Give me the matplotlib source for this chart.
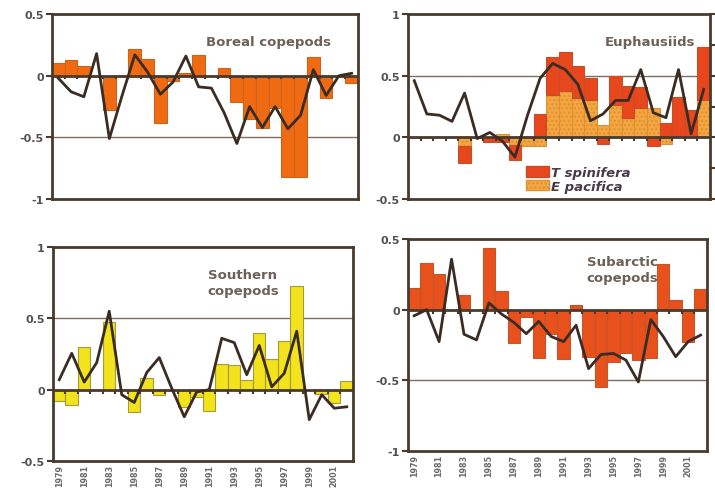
import matplotlib
matplotlib.use("Agg")
import matplotlib.pyplot as plt
from matplotlib.patches import Patch
import numpy as np

years = list(range(1979, 2003))
year_labels = [str(y) for y in years[::2]]

boreal_bars = [0.10, 0.13, 0.08, 0.0, -0.28, 0.0, 0.22, 0.14, -0.38, -0.04, 0.02, 0.17,
               0.0, 0.065, -0.21, -0.35, -0.42, -0.26, -0.82, -0.82, 0.155, -0.18, 0.0, -0.06]
boreal_line = [-0.02, -0.13, -0.17, 0.18, -0.51, -0.16, 0.17, 0.03, -0.15, -0.05, 0.16, -0.09,
               -0.10, -0.30, -0.55, -0.25, -0.42, -0.25, -0.43, -0.32, 0.05, -0.16, 0.0, 0.02]

tspin_bars = [0.0, 0.0, 0.0, 0.0, -0.14, 0.0, -0.04, -0.04, -0.12, 0.0, 0.19, 0.31,
              0.31, 0.26, 0.18, -0.05, 0.24, 0.26, 0.17, -0.07, 0.12, 0.33, 0.22, 0.43]
epac_bars = [0.0, 0.0, 0.0, 0.0, -0.07, 0.0, 0.0, 0.03, -0.06, -0.07, -0.07, 0.34,
             0.38, 0.32, 0.305, 0.10, 0.26, 0.16, 0.24, 0.235, -0.055, 0.0, 0.0, 0.30]
euph_line = [0.46, 0.19, 0.18, 0.13, 0.36, -0.01, 0.04, -0.03, -0.16, 0.18, 0.48, 0.60,
             0.55, 0.43, 0.135, 0.19, 0.30, 0.30, 0.55, 0.20, 0.16, 0.55, 0.03, 0.39]

southern_bars = [-0.077, -0.105, 0.30, 0.0, 0.477, 0.0, -0.155, 0.08, -0.035, 0.0, -0.12, -0.05,
                 -0.15, 0.18, 0.17, 0.07, 0.395, 0.215, 0.34, 0.725, 0.0, -0.03, -0.09, 0.06]
southern_line = [0.07, 0.255, 0.053, 0.19, 0.55, -0.035, -0.09, 0.12, 0.225, 0.01, -0.19, -0.016,
                 0.0, 0.36, 0.33, 0.105, 0.31, 0.02, 0.115, 0.41, -0.21, -0.035, -0.13, -0.12]

subarctic_bars = [0.155, 0.333, 0.25, 0.0, 0.107, 0.0, 0.433, 0.13, -0.233, -0.055, -0.345, -0.17,
                  -0.35, 0.03, -0.333, -0.548, -0.37, -0.31, -0.357, -0.345, 0.326, 0.07, -0.226, 0.143]
subarctic_line = [-0.043, 0.0, -0.226, 0.357, -0.174, -0.214, 0.048, -0.03, -0.09, -0.17, -0.083, -0.19,
                  -0.226, -0.11, -0.417, -0.317, -0.31, -0.357, -0.512, -0.07, -0.19, -0.333, -0.226, -0.18]

FRAME = "#4a3a2c"
GRID = "#7d6d5f"
LINE = "#3a2c22"
TXT = "#555050"
TITLE = "#6e6058"

fig = plt.figure(figsize=(7.15, 4.89), dpi=100)
fig.patch.set_facecolor("white")

x = np.arange(len(years))


def style(ax, ylim, yticks, show_x):
    ax.set_xlim(-0.5, len(years) - 0.5)
    ax.set_ylim(*ylim)
    ax.set_yticks(yticks)
    ax.set_yticklabels([("%g" % t) for t in yticks], fontsize=8, fontweight="bold", color=TXT)
    ax.tick_params(axis="y", length=4, width=1.5, color=FRAME, pad=2)
    for t in yticks:
        if t != 0 and ylim[0] < t < ylim[1]:
            ax.axhline(t, color=GRID, lw=1.0, zorder=0.5)
    ax.axhline(0, color=FRAME, lw=2.0, zorder=3)
    bounds = np.arange(0.5, len(years) - 0.5, 1.0)
    ax.vlines(bounds, 0, -0.03, color=FRAME, lw=1.5, zorder=3)
    for s in ax.spines.values():
        s.set_color(FRAME)
        s.set_linewidth(2.0)
    if show_x:
        ax.set_xticks(x[::2])
        ax.set_xticklabels(year_labels, rotation=90, fontsize=5.8, fontweight="bold", color="#6a6a6a")
        ax.tick_params(axis="x", length=0, pad=2)
    else:
        ax.set_xticks([])


# Boreal copepods
ax1 = fig.add_axes([0.0727, 0.591, 0.428, 0.378])
ax1.bar(x, boreal_bars, width=1.0, color="#f06a12", edgecolor="#c8641e", lw=0.8, zorder=2)
ax1.plot(x, boreal_line, color=LINE, lw=2.0, zorder=4)
style(ax1, (-1, 0.5), [-1, -0.5, 0, 0.5], False)
ax1.text(0.706, 0.854, "Boreal copepods", transform=ax1.transAxes, ha="center", va="center",
         fontsize=9.5, fontweight="bold", color=TITLE)

# Euphausiids
ax2 = fig.add_axes([0.5706, 0.591, 0.4224, 0.378])
tsp = np.array(tspin_bars)
epa = np.array(epac_bars)
base_t = np.where(np.sign(tsp) == np.sign(epa), epa, 0.0)
ax2.bar(x, epa, width=1.0, color="#f6a640", edgecolor="#dc9236", lw=0.8, hatch="....", zorder=2)
ax2.bar(x, tsp, bottom=base_t, width=1.0, color="#e8461c", edgecolor="#c4502a", lw=0.8, zorder=2)
ax2.plot(x, euph_line, color=LINE, lw=2.0, zorder=4)
style(ax2, (-0.5, 1), [-0.5, 0, 0.5, 1], False)
ax2.yaxis.set_ticks_position("both")
ax2.tick_params(axis="y", which="both", right=True, direction="out")
ax2.set_yticks([-0.25, 0.25, 0.75], minor=True)
ax2.tick_params(axis="y", which="minor", left=False, right=True, length=4, width=1.5, color=FRAME)
ax2.text(0.80, 0.854, "Euphausiids", transform=ax2.transAxes, ha="center", va="center",
         fontsize=9.5, fontweight="bold", color=TITLE)
handles = [Patch(facecolor="#e8461c", edgecolor="#c4502a", label="T spinifera"),
           Patch(facecolor="#f6a640", edgecolor="#dc9236", hatch="....", label="E pacifica")]
leg = ax2.legend(handles=handles, loc="upper left", bbox_to_anchor=(0.37, 0.215), frameon=False,
                 handlelength=1.7, handleheight=0.9, handletextpad=0.2, labelspacing=0.05,
                 borderpad=0.0, prop={"size": 9.5, "style": "italic", "weight": "bold"})
for t in leg.get_texts():
    t.set_color("#4a3a48")

# Southern copepods
ax3 = fig.add_axes([0.0741, 0.0552, 0.4196, 0.4376])
ax3.bar(x, southern_bars, width=1.0, color="#f2e31c", edgecolor="#a89a3a", lw=0.8, zorder=2)
ax3.plot(x, southern_line, color=LINE, lw=2.0, zorder=4)
style(ax3, (-0.5, 1), [-0.5, 0, 0.5, 1], True)
ax3.text(0.633, 0.836, "Southern\ncopepods", transform=ax3.transAxes, ha="center", va="center",
         fontsize=9.5, fontweight="bold", color=TITLE, linespacing=1.3)

# Subarctic copepods
ax4 = fig.add_axes([0.5706, 0.0757, 0.418, 0.4335])
ax4.bar(x, subarctic_bars, width=1.0, color="#e8501c", edgecolor="#c0582e", lw=0.8, zorder=2)
ax4.plot(x, subarctic_line, color=LINE, lw=2.0, zorder=4)
style(ax4, (-1, 0.5), [-1, -0.5, 0, 0.5], True)
ax4.text(0.716, 0.854, "Subarctic\ncopepods", transform=ax4.transAxes, ha="center", va="center",
         fontsize=9.5, fontweight="bold", color=TITLE, linespacing=1.3)

fig.savefig("out.png", dpi=100)
